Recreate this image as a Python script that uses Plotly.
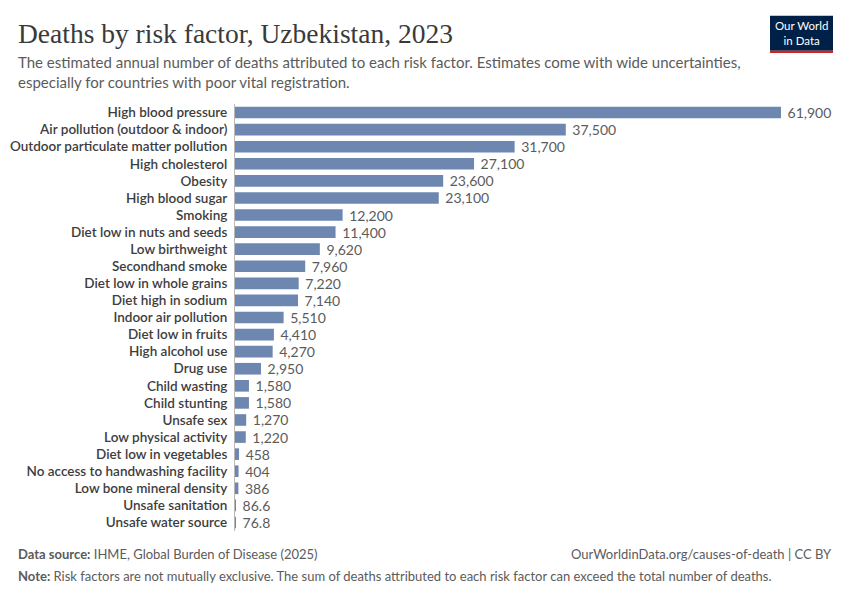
import plotly.graph_objects as go

# risk factors, largest first (as shown top to bottom)
factors = [
    "High blood pressure", "Air pollution (outdoor & indoor)",
    "Outdoor particulate matter pollution", "High cholesterol", "Obesity",
    "High blood sugar", "Smoking", "Diet low in nuts and seeds",
    "Low birthweight", "Secondhand smoke", "Diet low in whole grains",
    "Diet high in sodium", "Indoor air pollution", "Diet low in fruits",
    "High alcohol use", "Drug use", "Child wasting", "Child stunting",
    "Unsafe sex", "Low physical activity", "Diet low in vegetables",
    "No access to handwashing facility", "Low bone mineral density",
    "Unsafe sanitation", "Unsafe water source",
]
deaths = [
    61900, 37500, 31700, 27100, 23600, 23100, 12200, 11400, 9620, 7960,
    7220, 7140, 5510, 4410, 4270, 2950, 1580, 1580, 1270, 1220, 458, 404,
    386, 86.6, 76.8,
]

# page body adds an 8px offset; positions below are screen pixels
OFF = 8
W, H = 850, 600
L = 235 - OFF
T = 103.5 - OFF
R = W - (781 - OFF)
B = H - (531.5 - OFF)
pw, ph = W - L - R, H - T - B


def px(x):
    return (x - OFF - L) / pw


def py(y):
    return (H - B - (y - OFF)) / ph


def fmt(v):
    if v >= 1000:
        return f"{v:,.0f}"
    if v == int(v):
        return str(int(v))
    return f"{v:g}"


fig = go.Figure(go.Bar(
    x=deaths, y=factors, orientation="h",
    marker=dict(color="#6d87b1", line=dict(width=0)),
    text=[" " + fmt(v) for v in deaths], textposition="outside",
    constraintext="none",
    textfont=dict(family="Lato", size=14, color="#5b5b5b"),
    cliponaxis=False, hoverinfo="skip",
))

fig.update_layout(
    width=W, height=H,
    margin=dict(l=L, r=R, t=T, b=B, autoexpand=False),
    paper_bgcolor="white", plot_bgcolor="white",
    bargap=0.32, showlegend=False,
    font=dict(family="Lato", color="#333"),
)
fig.update_xaxes(range=[0, 61900], visible=False, fixedrange=True)
fig.update_yaxes(
    autorange="reversed", showgrid=False, showline=True, automargin=False,
    linecolor="#b8b8b8", linewidth=1, ticks="", ticklabelstandoff=4,
    tickfont=dict(family="Lato", size=13.5, color="#3d3d3d", weight=600),
)

ann = [
    dict(text="Deaths by risk factor, Uzbekistan, 2023", x=px(16), y=py(33),
         font=dict(family="Liberation Serif", size=27.5, color="#3a3a3a")),
    dict(text="The estimated annual number of deaths attributed to each risk factor. "
              "Estimates come with wide uncertainties,<br>especially for countries "
              "with poor vital registration.",
         x=px(16), y=py(71), align="left",
         font=dict(family="Lato", size=15, color="#5b5b5b")),
    dict(text="<b>Data source:</b> IHME, Global Burden of Disease (2025)",
         x=px(16), y=py(555), font=dict(family="Lato", size=13, color="#5b5b5b")),
    dict(text="OurWorldinData.org/causes-of-death | CC BY", x=px(834), y=py(555),
         xanchor="right", font=dict(family="Lato", size=13, color="#5b5b5b")),
    dict(text="<b>Note:</b> Risk factors are not mutually exclusive. The sum of deaths "
              "attributed to each risk factor can exceed the total number of deaths.",
         x=px(16), y=py(577), font=dict(family="Lato", size=13, color="#5b5b5b")),
    dict(text="Our World<br>in Data", x=px(801.5), y=py(32), xanchor="center",
         align="center", font=dict(family="Lato", size=11.5, color="white")),
]
for a in ann:
    a.setdefault("xanchor", "left")
    fig.add_annotation(xref="paper", yref="paper", yanchor="middle",
                       showarrow=False, **a)

fig.add_shape(type="rect", xref="paper", yref="paper", x0=px(770), x1=px(833),
              y0=py(15), y1=py(50), fillcolor="#002147", line=dict(width=0), layer="above")
fig.add_shape(type="rect", xref="paper", yref="paper", x0=px(770), x1=px(833),
              y0=py(50), y1=py(52.5), fillcolor="#ce261e", line=dict(width=0), layer="above")

fig.write_html("out.html")
